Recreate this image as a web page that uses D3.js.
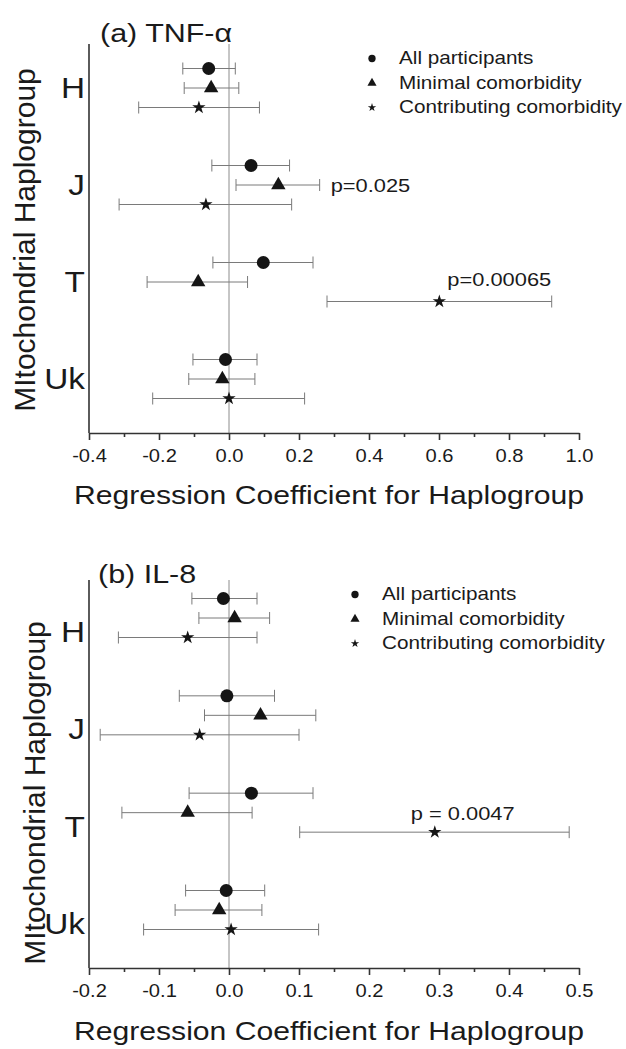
<!DOCTYPE html>
<meta charset="utf-8">
<head>
  <title>Haplogroup regression coefficients</title>
</head>

<style>
body {
    margin: 0;
    background: #fff;
}
svg {
    display: block;
    font-family: "Liberation Sans", Arial, sans-serif;
    fill: #1a1a1a;
}
</style>

<body>
  <svg width="626" height="1049"></svg>

  <script src="https://cdnjs.cloudflare.com/ajax/libs/d3/7.8.5/d3.min.js"></script>
  <script>

// categories and series
var haplogroups = ["H", "J", "T", "Uk"];
var seriesNames = ["All participants", "Minimal comorbidity", "Contributing comorbidity"];

// (a) TNF-alpha : estimate, lower and upper end of the error bar, per haplogroup
var tnfAllEst = [-0.058, 0.063, 0.098, -0.010];
var tnfAllLo  = [-0.132, -0.049, -0.046, -0.103];
var tnfAllHi  = [0.018, 0.173, 0.240, 0.080];
var tnfMinEst = [-0.051, 0.141, -0.088, -0.019];
var tnfMinLo  = [-0.128, 0.020, -0.234, -0.115];
var tnfMinHi  = [0.028, 0.259, 0.053, 0.074];
var tnfConEst = [-0.086, -0.066, 0.601, 0.000];
var tnfConLo  = [-0.258, -0.314, 0.280, -0.218];
var tnfConHi  = [0.087, 0.179, 0.922, 0.216];
var tnfTicks  = [-0.4, -0.2, 0.0, 0.2, 0.4, 0.6, 0.8, 1.0];
var tnfNotes  = [
    {group: "J", series: 1, text: "p=0.025"},
    {group: "T", series: 2, text: "p=0.00065"}
];

// (b) IL-8
var il8AllEst = [-0.008, -0.003, 0.032, -0.004];
var il8AllLo  = [-0.053, -0.071, -0.057, -0.062];
var il8AllHi  = [0.040, 0.065, 0.120, 0.051];
var il8MinEst = [0.008, 0.045, -0.059, -0.014];
var il8MinLo  = [-0.043, -0.035, -0.153, -0.077];
var il8MinHi  = [0.058, 0.124, 0.033, 0.047];
var il8ConEst = [-0.059, -0.042, 0.294, 0.003];
var il8ConLo  = [-0.158, -0.184, 0.101, -0.122];
var il8ConHi  = [0.040, 0.100, 0.486, 0.128];
var il8Ticks  = [-0.2, -0.1, 0.0, 0.1, 0.2, 0.3, 0.4, 0.5];
var il8Notes  = [
    {group: "T", series: 2, text: "p = 0.0047"}
];

var svg = d3.select("svg");

var shapes = [d3.symbolCircle, d3.symbolTriangle, d3.symbolStar];
var markSize = [133, 90, 55];
var legendSize = [42, 36, 22];
var rowOffset = [-19.5, 0, 19.5];
var SX = 1.15;   // lettering in the source is a bit wider than tall
var fmt = function(d) { return d3.format(".1f")(d).replace("\u2212", "-"); };

function rows(est, lo, hi) {
    return haplogroups.map(function(h, i) {
        return {group: h, est: est[i], lo: lo[i], hi: hi[i]};
    });
}

function label(g, x, y, str, size, anchor) {
    return g.append("text")
        .attr("transform", "translate(" + x + "," + y + ") scale(" + SX + ",1)")
        .attr("text-anchor", anchor || "start")
        .style("font-size", size + "px")
        .text(str);
}

function drawPanel(p) {
    var g = svg.append("g");
    var left = 89, right = 579;

    var x = d3.scaleLinear()
        .domain([p.ticks[0], p.ticks[p.ticks.length - 1]])
        .range([left, right]);
    var y = d3.scalePoint()
        .domain(haplogroups)
        .range(p.rowRange);

    // zero reference line
    g.append("line")
        .attr("x1", x(0)).attr("x2", x(0))
        .attr("y1", p.top).attr("y2", p.axisY)
        .style("stroke", "#8c8c8c").style("stroke-width", 1);

    // y axis line (no ticks)
    g.append("line")
        .attr("x1", left).attr("x2", left)
        .attr("y1", p.top).attr("y2", p.axisY)
        .style("stroke", "#333").style("stroke-width", 1.6);

    // x axis: minor ticks then major ticks with labels
    var minor = p.ticks.slice(1).map(function(t, i) { return (t + p.ticks[i]) / 2; });
    var minorAxis = g.append("g")
        .attr("transform", "translate(0," + p.axisY + ")")
        .call(d3.axisBottom(x).tickValues(minor).tickSize(4).tickSizeOuter(0).tickFormat(""));
    minorAxis.select(".domain").remove();

    var majorAxis = g.append("g")
        .attr("transform", "translate(0," + p.axisY + ")")
        .call(d3.axisBottom(x).tickValues(p.ticks).tickSize(7).tickSizeOuter(0)
            .tickPadding(10).tickFormat(fmt));
    g.selectAll(".domain, .tick line")
        .style("stroke", "#333").style("stroke-width", 1.6);
    majorAxis.selectAll("text")
        .attr("transform", "scale(" + SX + ",1)")
        .style("font-size", "17.5px")
        .style("font-family", "'Liberation Sans', Arial, sans-serif")
        .style("fill", "#1a1a1a");

    // error bars and markers, one pass per series
    p.series.forEach(function(data, s) {
        var sg = g.append("g");
        var bars = sg.selectAll(".bar").data(data).enter().append("g")
            .attr("class", "bar")
            .attr("transform", function(d) { return "translate(0," + (y(d.group) + rowOffset[s]) + ")"; });
        bars.append("line")
            .attr("x1", function(d) { return x(d.lo); })
            .attr("x2", function(d) { return x(d.hi); });
        bars.append("line")
            .attr("x1", function(d) { return x(d.lo); })
            .attr("x2", function(d) { return x(d.lo); })
            .attr("y1", -6).attr("y2", 6);
        bars.append("line")
            .attr("x1", function(d) { return x(d.hi); })
            .attr("x2", function(d) { return x(d.hi); })
            .attr("y1", -6).attr("y2", 6);
        bars.selectAll("line").style("stroke", "#7a7a7a").style("stroke-width", 1);
        bars.append("path")
            .attr("d", d3.symbol().type(shapes[s]).size(markSize[s]))
            .attr("transform", function(d) { return "translate(" + x(d.est) + ",0)"; })
            .style("fill", "#151515");
    });

    // p-value notes
    p.notes.forEach(function(n, k) {
        var d = p.series[n.series].filter(function(r) { return r.group === n.group; })[0];
        var yy = y(n.group) + rowOffset[n.series];
        var xx = p.noteAt[k].onHi ? x(d.hi) : x(d.est);
        label(g, xx + p.noteAt[k].dx, yy + p.noteAt[k].dy, n.text, 19);
    });

    // category labels
    haplogroups.forEach(function(h) {
        label(g, 85, y(h) + p.catDy, h, 29, "end");
    });

    // axis titles
    g.append("text")
        .attr("transform", "translate(" + p.yTitleX + "," + p.yTitleY + ") rotate(-90)")
        .attr("text-anchor", "middle")
        .style("font-size", "30px")
        .text("MItochondrial Haplogroup");
    label(g, 329, p.xTitleY, "Regression Coefficient for Haplogroup", 26.2, "middle");

    // panel title
    label(g, p.titleX, p.titleY, p.title, 26.5);

    // legend
    seriesNames.forEach(function(name, s) {
        var ly = p.legendY + s * 24.5;
        g.append("path")
            .attr("d", d3.symbol().type(shapes[s]).size(legendSize[s]))
            .attr("transform", "translate(" + p.legendX + "," + (ly - 5.5) + ")")
            .style("fill", "#151515");
        label(g, p.legendX + 27, ly, name, 18);
    });
}

drawPanel({
    title: "(a) TNF-\u03b1", titleX: 100, titleY: 42,
    top: 44, axisY: 433, rowRange: [88, 379], ticks: tnfTicks,
    series: [rows(tnfAllEst, tnfAllLo, tnfAllHi),
             rows(tnfMinEst, tnfMinLo, tnfMinHi),
             rows(tnfConEst, tnfConLo, tnfConHi)],
    notes: tnfNotes,
    noteAt: [{onHi: true, dx: 11, dy: 7}, {onHi: false, dx: 8, dy: -16}],
    catDy: 10, yTitleX: 35, yTitleY: 240, xTitleY: 504,
    legendX: 372, legendY: 64
});

drawPanel({
    title: "(b) IL-8", titleX: 98, titleY: 583,
    top: 580, axisY: 968, rowRange: [618, 910], ticks: il8Ticks,
    series: [rows(il8AllEst, il8AllLo, il8AllHi),
             rows(il8MinEst, il8MinLo, il8MinHi),
             rows(il8ConEst, il8ConLo, il8ConHi)],
    notes: il8Notes,
    noteAt: [{onHi: false, dx: -24, dy: -12}],
    catDy: 24, yTitleX: 45, yTitleY: 793, xTitleY: 1040,
    legendX: 355, legendY: 600
});

  </script>
</body>
</html>
